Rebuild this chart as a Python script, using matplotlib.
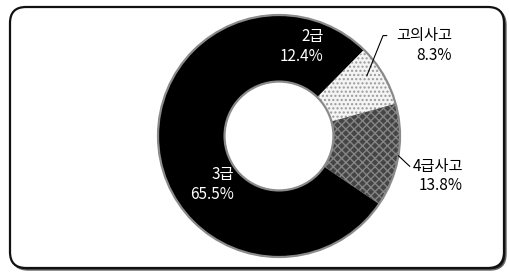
import numpy as np
import matplotlib.pyplot as plt
from matplotlib.patches import FancyBboxPatch

plt.rcParams['font.family'] = ['Noto Sans CJK KR', 'DejaVu Sans']

# data (clockwise from the top)
labels = ['2급', '고의사고', '4급사고', '3급']
values = [12.4, 8.3, 13.8, 65.5]
colors = ['#000000', '#f4f4f4', '#454545', '#000000']
hatches = [None, '....', 'xxxx', None]
hatch_colors = ['#000000', '#9a9a9a', '#858585', '#000000']

W, H = 510, 274
fig = plt.figure(figsize=(W / 100, H / 100), dpi=100)

# rounded frame with a heavier shadow on the right / bottom (pixel coords, y from bottom)
shadow = FancyBboxPatch((12, H - 7 - 261 - 2), 494, 261,
                        boxstyle='round,pad=0,rounding_size=16', transform=None,
                        facecolor='#222222', edgecolor='#666666', lw=1.0, zorder=-10)
frame = FancyBboxPatch((10, H - 7 - 261), 494, 261,
                       boxstyle='round,pad=0,rounding_size=16', transform=None,
                       facecolor='white', edgecolor='#111111', lw=1.6, zorder=-9)
fig.patches.extend([shadow, frame])

cx, cy, R = 279, 136, 121
ax = fig.add_axes([(cx - R) / W, (H - cy - R) / H, 2 * R / W, 2 * R / H])

wedges, _ = ax.pie(values, startangle=90, counterclock=False, radius=1.0,
                   colors=colors, wedgeprops=dict(width=0.55, linewidth=0))
for w, h, hc in zip(wedges, hatches, hatch_colors):
    if h:
        w.set_hatch(h)
        w.set_edgecolor(hc)
        w.set_linewidth(0)
ax.set_xlim(-1, 1)
ax.set_ylim(-1, 1)
ax.set_aspect('equal')
ax.axis('off')

# fuzzy grey rim like the halftone print
ax.add_patch(plt.Circle((0, 0), 1.0, fill=False, edgecolor='#8a8a8a', lw=1.6, clip_on=False))
ax.add_patch(plt.Circle((0, 0), 0.45, fill=False, edgecolor='#8a8a8a', lw=1.6))

fs = 11
# labels inside the black ring
ax.text(0.37, 0.74, '2급\n12.4%', color='white', ha='right', va='center',
        fontsize=fs, linespacing=1.2, multialignment='right')
ax.text(-0.37, -0.40, '3급\n65.5%', color='white', ha='right', va='center',
        fontsize=fs, linespacing=1.2, multialignment='right')

# outside labels with leader lines
mid = 90 - (np.cumsum(values) - np.array(values) / 2) * 3.6
a1 = np.deg2rad(mid[1] + 4)
p1 = (0.88 * np.cos(a1), 0.88 * np.sin(a1))
ax.plot([p1[0], 0.86, 0.89], [p1[1], 0.83, 0.83], color='black', lw=0.8, clip_on=False)
ax.text(1.43, 0.75, '고의사고\n8.3%', ha='right', va='center', fontsize=fs,
        linespacing=1.2, multialignment='right')

a2 = np.deg2rad(mid[2])
p2 = (np.cos(a2), np.sin(a2))
ax.plot([p2[0], 1.08], [p2[1], -0.25], color='black', lw=0.8, clip_on=False)
ax.text(1.52, -0.33, '4급사고\n13.8%', ha='right', va='center', fontsize=fs,
        linespacing=1.2, multialignment='right')

fig.savefig('out.png', dpi=100)
